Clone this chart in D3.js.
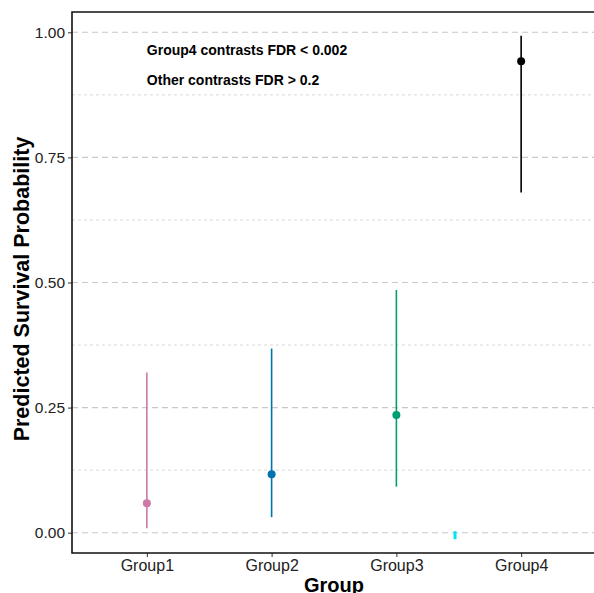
<!DOCTYPE html>
<html>
<head>
<meta charset="utf-8">
<script src="https://cdnjs.cloudflare.com/ajax/libs/d3/7.8.5/d3.min.js"></script>
<style>
  body { margin: 0; background: #fff; }
  svg { display: block; font-family: "Liberation Sans", Arial, sans-serif; }
</style>
</head>
<body>
<svg id="chart" width="594" height="593"></svg>
<script>
// data
const groups = ["Group1", "Group2", "Group3", "Group4"];
const estimates = [0.059, 0.117, 0.235, 0.942];
const lowerCI = [0.009, 0.031, 0.092, 0.680];
const upperCI = [0.320, 0.368, 0.485, 0.993];
const colors = ["#CC79A7", "#0072B2", "#009E73", "#000000"];
const yTicks = [0, 0.25, 0.5, 0.75, 1];
const yMinor = [0.125, 0.375, 0.625, 0.875];
const notes = ["Group4 contrasts FDR < 0.002", "Other contrasts FDR > 0.2"];
// small cyan stray mark near zero between Group3 and Group4
const strayMark = [{ pos: 2.47, lo: -0.013, hi: 0.003 }];

const svg = d3.select("#chart");
const margin = { left: 72, top: 12, right: -2, bottom: 40 };
const W = 594, H = 593;

// discrete axis with ggplot-style 0.6 expansion on each side
const x = d3.scaleLinear()
  .domain([-0.6, groups.length - 1 + 0.6])
  .range([margin.left, W - margin.right]);
const y = d3.scaleLinear()
  .domain([-0.0406, 1.0406])
  .range([H - margin.bottom, margin.top]);

// grid lines
svg.append("g").selectAll("line.minor")
  .data(yMinor)
  .join("line")
  .attr("x1", x.range()[0]).attr("x2", x.range()[1])
  .attr("y1", d => y(d)).attr("y2", d => y(d))
  .attr("stroke", "#d9d9d9")
  .attr("stroke-width", 1)
  .attr("stroke-dasharray", "3,3");

svg.append("g").selectAll("line.major")
  .data(yTicks)
  .join("line")
  .attr("x1", x.range()[0]).attr("x2", x.range()[1])
  .attr("y1", d => y(d)).attr("y2", d => y(d))
  .attr("stroke", "#c8c8c8")
  .attr("stroke-width", 1.1)
  .attr("stroke-dasharray", "6,4");

// error bars
const rows = groups.map((g, i) => ({ g, i, est: estimates[i], lo: lowerCI[i], hi: upperCI[i], c: colors[i] }));

svg.append("g").selectAll("line")
  .data(rows)
  .join("line")
  .attr("x1", d => x(d.i)).attr("x2", d => x(d.i))
  .attr("y1", d => y(d.lo)).attr("y2", d => y(d.hi))
  .attr("stroke", d => d.c)
  .attr("stroke-width", 1.6);

svg.append("g").selectAll("circle")
  .data(rows)
  .join("circle")
  .attr("cx", d => x(d.i))
  .attr("cy", d => y(d.est))
  .attr("r", 4)
  .attr("fill", d => d.c);

svg.append("g").selectAll("rect")
  .data(strayMark)
  .join("rect")
  .attr("x", d => x(d.pos) - 1.5)
  .attr("width", 3)
  .attr("y", d => y(d.hi))
  .attr("height", d => y(d.lo) - y(d.hi))
  .attr("fill", "#00e5f5");

// annotations
svg.append("g").selectAll("text")
  .data(notes)
  .join("text")
  .attr("x", x(0))
  .attr("y", (d, i) => 55 + i * 30)
  .attr("font-size", 14)
  .attr("font-weight", "bold")
  .attr("fill", "#000")
  .text(d => d);

// axes
const yAxis = d3.axisLeft(y).tickValues(yTicks).tickFormat(d3.format(".2f")).tickSize(4).tickPadding(3);
const gy = svg.append("g").attr("transform", `translate(${margin.left},0)`).call(yAxis);
gy.select(".domain").remove();
gy.selectAll(".tick line").attr("stroke", "#333");
gy.selectAll(".tick text").attr("font-size", 15.5).attr("fill", "#222").attr("font-family", "Liberation Sans, Arial, sans-serif");

const xAxis = d3.axisBottom(x).tickValues(d3.range(groups.length)).tickFormat(i => groups[i]).tickSize(4).tickPadding(3);
const gx = svg.append("g").attr("transform", `translate(0,${H - margin.bottom})`).call(xAxis);
gx.select(".domain").remove();
gx.selectAll(".tick line").attr("stroke", "#333");
gx.selectAll(".tick text").attr("font-size", 16).attr("fill", "#222").attr("font-family", "Liberation Sans, Arial, sans-serif");

// panel border (left, top, bottom visible)
svg.append("path")
  .attr("d", `M${x.range()[1] + 2},${margin.top}H${margin.left}V${H - margin.bottom}H${x.range()[1] + 2}`)
  .attr("fill", "none")
  .attr("stroke", "#111")
  .attr("stroke-width", 1.6);

// axis titles
svg.append("text")
  .attr("x", (x.range()[0] + x.range()[1]) / 2)
  .attr("y", 592)
  .attr("text-anchor", "middle")
  .attr("font-size", 20)
  .attr("font-weight", "bold")
  .text("Group");

svg.append("text")
  .attr("transform", `translate(29,289) rotate(-90)`)
  .attr("text-anchor", "middle")
  .attr("font-size", 21.5)
  .attr("font-weight", "bold")
  .text("Predicted Survival Probability");
</script>
</body>
</html>
